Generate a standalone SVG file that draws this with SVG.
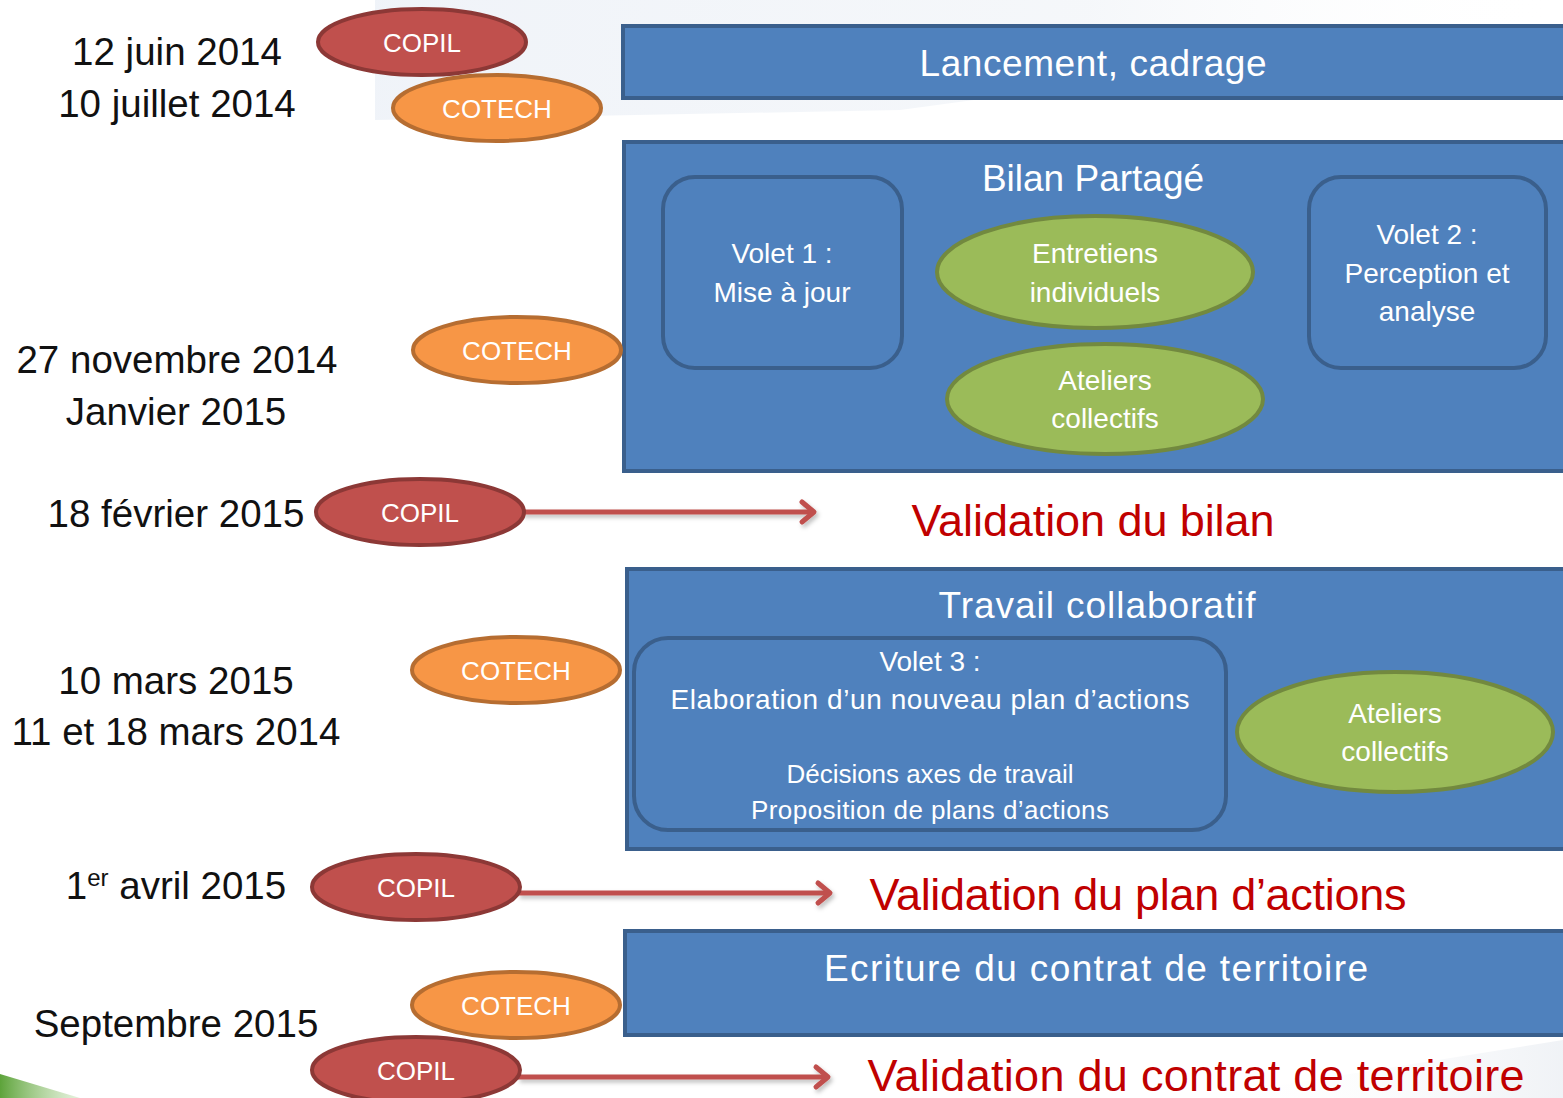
<svg xmlns="http://www.w3.org/2000/svg" width="1563" height="1098" viewBox="0 0 1563 1098">
<defs>
<style>
.t{font-family:"Liberation Sans",Arial,sans-serif;}
.date{font-size:38.5px;fill:#111;text-anchor:middle;}
.box{fill:#4F81BD;stroke:#3A5F8C;stroke-width:4;}
.inner{fill:#4F81BD;stroke:#3A5F8C;stroke-width:4;}
.title{font-size:37px;fill:#fff;text-anchor:middle;}
.in{font-size:28px;fill:#fff;text-anchor:middle;}
.small{font-size:26px;fill:#fff;text-anchor:middle;}
.green{fill:#9BBB59;stroke:#72893F;stroke-width:4;}
.copil{fill:#C0504D;stroke:#8C3836;stroke-width:4;}
.cotech{fill:#F79646;stroke:#B66D31;stroke-width:4;}
.lbl{font-size:26px;fill:#fff;text-anchor:middle;}
.val{font-size:45px;fill:#C00000;text-anchor:middle;}
.arr{stroke:#C0504D;stroke-width:5;fill:none;marker-end:url(#head);}
</style>
<marker id="head" markerUnits="userSpaceOnUse" markerWidth="24" markerHeight="28" refX="16" refY="14" orient="auto">
<path d="M4,4 L16,14 L4,24" fill="none" stroke="#C0504D" stroke-width="5" stroke-linecap="round" stroke-linejoin="round"/>
</marker>
<linearGradient id="bgtop" x1="0" y1="0" x2="1" y2="0">
<stop offset="0" stop-color="#EEF2F8" stop-opacity="0.9"/>
<stop offset="0.6" stop-color="#F1F4F8" stop-opacity="0.7"/>
<stop offset="1" stop-color="#FFFFFF" stop-opacity="0"/>
</linearGradient>
<linearGradient id="bgbot" x1="0" y1="0" x2="1" y2="0">
<stop offset="0" stop-color="#FFFFFF" stop-opacity="0"/>
<stop offset="1" stop-color="#EEF1F5" stop-opacity="0.9"/>
</linearGradient>
<linearGradient id="gr" x1="0" y1="0" x2="1" y2="0">
<stop offset="0" stop-color="#5DA33A"/>
<stop offset="1" stop-color="#A9D18E" stop-opacity="0.3"/>
</linearGradient>
<filter id="sh" filterUnits="userSpaceOnUse" x="0" y="0" width="1563" height="1098">
<feDropShadow dx="2" dy="3" stdDeviation="2" flood-color="#000" flood-opacity="0.25"/>
</filter>
</defs>
<rect width="1563" height="1098" fill="#fff"/>
<polygon points="375,0 1563,0 1563,20 900,110 375,120" fill="url(#bgtop)"/>
<polygon points="1200,1098 1563,1040 1563,1098" fill="url(#bgbot)"/>
<polygon points="0,1074 80,1098 0,1098" fill="url(#gr)"/>

<g id="dates">
<text class="t date" x="177" y="65">12 juin 2014</text>
<text class="t date" x="177" y="117">10 juillet 2014</text>
<text class="t date" x="177" y="373">27 novembre 2014</text>
<text class="t date" x="176" y="425">Janvier 2015</text>
<text class="t date" x="176" y="527">18 février 2015</text>
<text class="t date" x="176" y="694">10 mars 2015</text>
<text class="t date" x="176" y="745">11 et 18 mars 2014</text>
<text class="t date" x="176" y="899">1<tspan font-size="24px" dy="-13">er</tspan><tspan dy="13"> avril 2015</tspan></text>
<text class="t date" x="176" y="1037">Septembre 2015</text>
</g>

<g id="connectors" filter="url(#sh)">
<line class="arr" x1="522" y1="512" x2="814" y2="512"/>
<line class="arr" x1="518" y1="893" x2="830" y2="893"/>
<line class="arr" x1="518" y1="1077" x2="828" y2="1077"/>
</g>

<g id="box-lancement">
<rect class="box" x="623" y="26" width="945" height="72"/>
<text class="t title" x="1093" y="76" textLength="347">Lancement,  cadrage</text>
</g>

<g id="box-bilan">
<rect class="box" x="624" y="142" width="945" height="329"/>
<text class="t title" x="1093" y="191">Bilan Partagé</text>
</g>
<g id="volet1">
<rect class="inner" x="663" y="177" width="239" height="191" rx="32"/>
<text class="t in" x="782" y="263">Volet 1 :</text>
<text class="t in" x="782" y="302">Mise à jour</text>
</g>
<g id="entretiens">
<ellipse class="green" cx="1095" cy="272" rx="158" ry="56"/>
<text class="t in" x="1095" y="263">Entretiens</text>
<text class="t in" x="1095" y="302">individuels</text>
</g>
<g id="ateliers1">
<ellipse class="green" cx="1105" cy="399" rx="158" ry="55"/>
<text class="t in" x="1105" y="390">Ateliers</text>
<text class="t in" x="1105" y="428">collectifs</text>
</g>
<g id="volet2">
<rect class="inner" x="1309" y="177" width="237" height="191" rx="32"/>
<text class="t in" x="1427" y="244">Volet 2 :</text>
<text class="t in" x="1427" y="283">Perception et</text>
<text class="t in" x="1427" y="321">analyse</text>
</g>

<g id="val-bilan">
<text class="t val" x="1093" y="536" textLength="363">Validation du bilan</text>
</g>

<g id="box-travail">
<rect class="box" x="627" y="569" width="942" height="280"/>
<text class="t title" x="1097" y="618" textLength="317">Travail collaboratif</text>
</g>
<g id="volet3">
<rect class="inner" x="634" y="638" width="592" height="192" rx="34"/>
<text class="t in" x="930" y="671">Volet 3 :</text>
<text class="t in" x="930" y="709" textLength="519">Elaboration d’un nouveau plan d’actions</text>
<text class="t small" x="930" y="783" textLength="287">Décisions axes de travail</text>
<text class="t small" x="930" y="819" textLength="358">Proposition de plans d’actions</text>
</g>
<g id="ateliers2">
<ellipse class="green" cx="1395" cy="732" rx="158" ry="60"/>
<text class="t in" x="1395" y="723">Ateliers</text>
<text class="t in" x="1395" y="761">collectifs</text>
</g>

<g id="val-plan">
<text class="t val" x="1138" y="910" textLength="537">Validation du plan d’actions</text>
</g>

<g id="box-ecriture">
<rect class="box" x="625" y="931" width="944" height="104"/>
<text class="t title" x="1096" y="981" textLength="544">Ecriture du contrat de territoire</text>
</g>

<g id="val-contrat">
<text class="t val" x="1196" y="1091" textLength="657">Validation du contrat de territoire</text>
</g>

<g id="copil1"><ellipse class="copil" cx="422" cy="42" rx="104" ry="33"/><text class="t lbl" x="422" y="52">COPIL</text></g>
<g id="cotech1"><ellipse class="cotech" cx="497" cy="108" rx="104" ry="33"/><text class="t lbl" x="497" y="118">COTECH</text></g>
<g id="cotech2"><ellipse class="cotech" cx="517" cy="350" rx="104" ry="33"/><text class="t lbl" x="517" y="360">COTECH</text></g>
<g id="copil2"><ellipse class="copil" cx="420" cy="512" rx="104" ry="33"/><text class="t lbl" x="420" y="522">COPIL</text></g>
<g id="cotech3"><ellipse class="cotech" cx="516" cy="670" rx="104" ry="33"/><text class="t lbl" x="516" y="680">COTECH</text></g>
<g id="copil3"><ellipse class="copil" cx="416" cy="887" rx="104" ry="33"/><text class="t lbl" x="416" y="897">COPIL</text></g>
<g id="cotech4"><ellipse class="cotech" cx="516" cy="1005" rx="104" ry="33"/><text class="t lbl" x="516" y="1015">COTECH</text></g>
<g id="copil4"><ellipse class="copil" cx="416" cy="1070" rx="104" ry="33"/><text class="t lbl" x="416" y="1080">COPIL</text></g>
</svg>
